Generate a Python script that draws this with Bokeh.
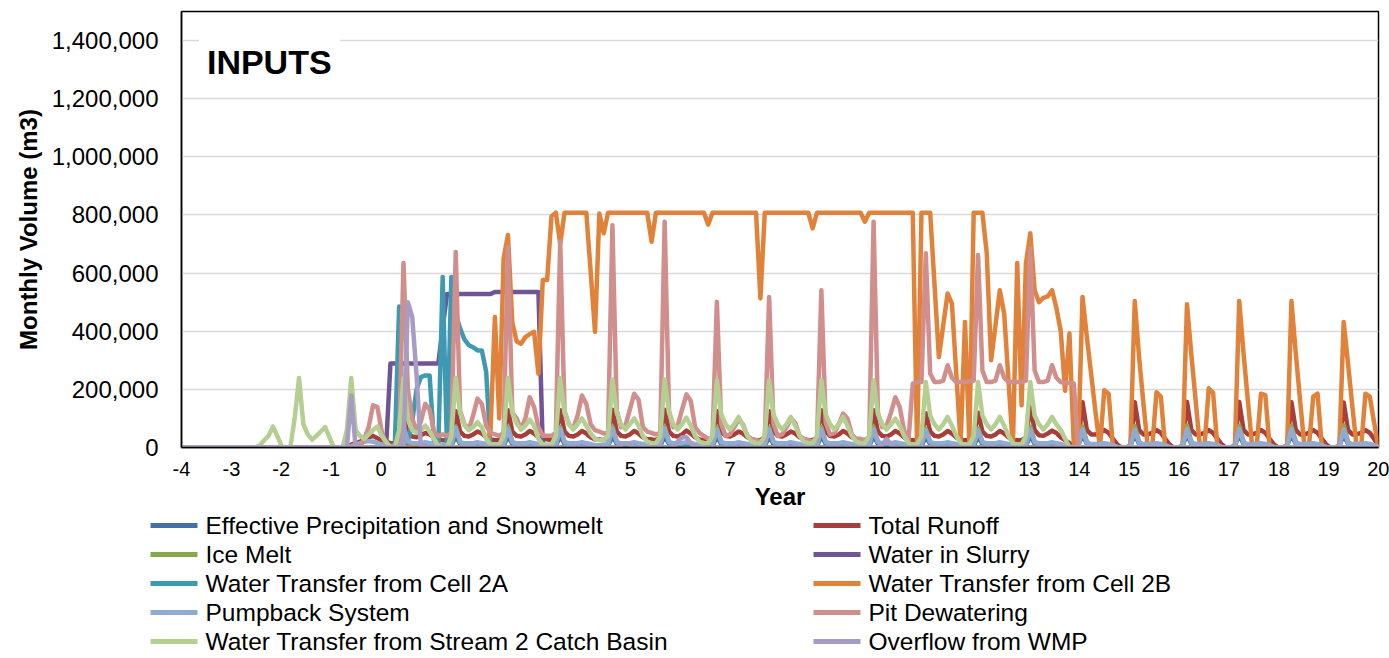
from bokeh.plotting import figure
from bokeh.models import Range1d, NumeralTickFormatter, FixedTicker, BoxAnnotation, Label
from bokeh.embed import file_html
from bokeh.resources import INLINE
from bokeh.core.properties import value

# ---------------- data (monthly volumes, thousands of m3; one row = 12 months) ----------------
N_MONTHS = 276
YEAR_START, YEAR_END = -4, 20
Y_TICKS = [0, 200000, 400000, 600000, 800000, 1000000, 1200000, 1400000]
X_TICKS = list(range(-4, 21))

Z = [0, 0, 0, 0, 0, 0, 0, 0, 0, 0, 0, 0]

eff_precip = [Z, Z, Z, Z,
    [0, 0, 5, 38, 12, 8, 8, 10, 12, 10, 5, 0],
    [0, 0, 5, 40, 12, 8, 8, 10, 12, 10, 5, 0],
    [0, 0, 5, 40, 12, 8, 8, 10, 12, 10, 5, 0],
    [0, 0, 5, 40, 12, 8, 8, 10, 12, 10, 5, 0],
    [0, 0, 5, 40, 12, 8, 8, 10, 12, 10, 5, 0],
    [0, 0, 5, 40, 12, 8, 8, 10, 12, 10, 5, 0],
    [0, 0, 5, 38, 12, 8, 8, 10, 12, 10, 5, 0],
    [0, 0, 5, 38, 12, 8, 8, 10, 12, 10, 5, 0],
    [0, 0, 5, 40, 12, 8, 8, 10, 12, 10, 5, 0],
    [0, 0, 5, 40, 12, 8, 8, 10, 12, 10, 5, 0],
    [0, 0, 5, 38, 12, 8, 8, 10, 12, 10, 5, 0],
    [0, 0, 5, 38, 12, 8, 8, 10, 12, 10, 5, 0],
    [0, 0, 5, 42, 12, 8, 8, 10, 12, 10, 5, 0],
    [0, 0, 5, 45, 12, 8, 8, 10, 12, 10, 5, 0],
    [0, 0, 5, 45, 12, 8, 8, 10, 12, 10, 5, 0],
    [0, 0, 5, 45, 12, 8, 8, 10, 12, 10, 5, 0],
    [0, 0, 5, 45, 12, 8, 8, 10, 12, 10, 5, 0],
    [0, 0, 5, 45, 12, 8, 8, 10, 12, 10, 5, 0],
    [0, 0, 5, 44, 12, 8, 8, 10, 12, 10, 5, 0]]

total_runoff = [Z, Z, Z,
    [0, 0, 0, 10, 15, 20, 28, 35, 40, 32, 25, 20],
    [15, 15, 25, 100, 50, 38, 35, 42, 50, 45, 35, 28],
    [25, 25, 35, 125, 55, 40, 38, 45, 55, 48, 35, 28],
    [25, 25, 35, 128, 55, 40, 38, 45, 57, 48, 35, 28],
    [28, 25, 35, 128, 55, 40, 38, 45, 57, 48, 35, 28],
    [28, 25, 35, 130, 55, 40, 38, 45, 57, 48, 35, 28],
    [28, 25, 35, 130, 55, 40, 38, 45, 58, 48, 35, 28],
    [25, 25, 35, 125, 55, 40, 38, 45, 55, 48, 35, 28],
    [25, 25, 35, 125, 55, 40, 38, 45, 55, 48, 35, 28],
    [25, 25, 35, 128, 55, 40, 38, 45, 57, 48, 35, 28],
    [25, 25, 35, 128, 55, 40, 38, 45, 57, 48, 35, 25],
    [25, 25, 35, 118, 55, 40, 38, 45, 57, 48, 35, 25],
    [25, 25, 35, 120, 55, 40, 38, 45, 57, 48, 35, 25],
    [25, 25, 35, 140, 60, 42, 40, 48, 58, 50, 35, 25],
    [15, 5, 10, 156, 60, 45, 45, 50, 60, 50, 30, 10],
    [0, 0, 5, 156, 60, 45, 45, 50, 60, 50, 30, 10],
    [0, 0, 5, 157, 60, 45, 45, 50, 60, 50, 30, 10],
    [0, 0, 5, 157, 60, 45, 45, 50, 60, 50, 30, 10],
    [0, 0, 5, 156, 60, 45, 45, 50, 60, 50, 30, 10],
    [0, 0, 5, 155, 60, 45, 45, 50, 60, 50, 30, 5]]

ice_melt = [Z, Z, Z, Z,
    [0, 0, 5, 65, 18, 5, 0, 0, 0, 0, 0, 0],
    [0, 0, 5, 70, 20, 5, 0, 0, 0, 0, 0, 0],
    [0, 0, 5, 72, 20, 5, 0, 0, 0, 0, 0, 0],
    [0, 0, 5, 70, 20, 5, 0, 0, 0, 0, 0, 0],
    [0, 0, 5, 72, 20, 5, 0, 0, 0, 0, 0, 0],
    [0, 0, 5, 70, 20, 5, 0, 0, 0, 0, 0, 0],
    [0, 0, 5, 68, 20, 5, 0, 0, 0, 0, 0, 0],
    [0, 0, 5, 68, 20, 5, 0, 0, 0, 0, 0, 0],
    [0, 0, 5, 70, 20, 5, 0, 0, 0, 0, 0, 0],
    [0, 0, 5, 70, 20, 5, 0, 0, 0, 0, 0, 0],
    [0, 0, 5, 64, 20, 5, 0, 0, 0, 0, 0, 0],
    [0, 0, 5, 66, 20, 5, 0, 0, 0, 0, 0, 0],
    [0, 0, 5, 72, 20, 5, 0, 0, 0, 0, 0, 0],
    [0, 0, 5, 72, 20, 5, 0, 0, 0, 0, 0, 0],
    [0, 0, 5, 74, 20, 5, 0, 0, 0, 0, 0, 0],
    [0, 0, 5, 76, 20, 5, 0, 0, 0, 0, 0, 0],
    [0, 0, 5, 74, 20, 5, 0, 0, 0, 0, 0, 0],
    [0, 0, 5, 74, 20, 5, 0, 0, 0, 0, 0, 0],
    [0, 0, 5, 76, 20, 5, 0, 0, 0, 0, 0, 0]]

water_in_slurry = [Z, Z, Z, Z,
    [289, 289, 289, 289, 289, 289, 289, 289, 289, 289, 289, 289],
    [410, 528, 528, 528, 528, 528, 528, 528, 528, 528, 528, 528],
    [535, 535, 535, 535, 535, 535, 535, 535, 535, 535, 535, 0],
    Z, Z, Z, Z, Z, Z, Z, Z, Z, Z, Z, Z, Z, Z, Z, Z]

cell_2a = [Z, Z, Z, Z,
    [0, 0, 485, 0, 20, 90, 200, 242, 248, 248, 20, 0],
    [587, 0, 587, 460, 410, 372, 352, 345, 334, 334, 260, 0],
    Z, Z, Z, Z, Z, Z, Z, Z, Z, Z, Z, Z, Z, Z, Z, Z, Z]

cell_2b = [Z, Z, Z, Z, Z,
    [0, 0, 0, 0, 0, 0, 0, 0, 0, 0, 0, 60],
    [449, 100, 650, 731, 430, 365, 357, 380, 390, 398, 254, 576],
    [576, 795, 808, 700, 808, 808, 808, 808, 808, 808, 605, 398],
    [805, 737, 808, 808, 808, 808, 808, 808, 808, 808, 808, 808],
    [708, 808, 808, 808, 808, 808, 808, 808, 808, 808, 808, 808],
    [808, 767, 808, 808, 808, 808, 808, 808, 808, 808, 808, 808],
    [808, 513, 808, 808, 808, 808, 808, 808, 808, 808, 808, 808],
    [808, 754, 808, 808, 808, 808, 808, 808, 808, 808, 808, 808],
    [808, 777, 808, 808, 808, 808, 808, 808, 808, 808, 808, 808],
    [808, 0, 808, 808, 808, 560, 311, 420, 530, 495, 255, 15],
    [432, 20, 808, 808, 808, 668, 300, 420, 541, 461, 231, 0],
    [635, 145, 633, 737, 541, 500, 515, 520, 541, 480, 400, 195],
    [392, 10, 0, 518, 380, 250, 120, 0, 197, 185, 0, 0],
    [0, 0, 0, 504, 311, 150, 0, 0, 190, 175, 0, 0],
    [0, 0, 0, 493, 320, 160, 0, 0, 204, 188, 0, 0],
    [0, 0, 0, 504, 323, 160, 0, 0, 185, 180, 0, 0],
    [0, 0, 0, 504, 323, 160, 0, 0, 175, 185, 0, 0],
    [0, 0, 0, 432, 289, 140, 0, 0, 185, 175, 85, 0]]

pumpback = [Z, Z, Z,
    [0, 0, 0, 5, 10, 15, 20, 22, 20, 15, 10, 5],
    [5, 5, 10, 75, 20, 15, 15, 15, 18, 15, 12, 8],
    [8, 8, 12, 68, 18, 15, 15, 15, 18, 15, 12, 8],
    [8, 8, 12, 65, 18, 15, 15, 15, 18, 15, 12, 8],
    [8, 8, 12, 65, 18, 15, 15, 15, 18, 15, 12, 8],
    [8, 8, 12, 65, 18, 15, 15, 15, 18, 15, 12, 8],
    [8, 8, 12, 65, 18, 15, 15, 15, 18, 15, 12, 8],
    [8, 8, 12, 62, 18, 15, 15, 15, 18, 15, 12, 8],
    [8, 8, 12, 62, 18, 15, 15, 15, 18, 15, 12, 8],
    [8, 8, 12, 62, 18, 15, 15, 15, 18, 15, 12, 8],
    [8, 8, 12, 62, 18, 15, 15, 15, 18, 15, 12, 8],
    [8, 8, 12, 59, 18, 15, 15, 15, 18, 15, 12, 8],
    [8, 8, 12, 59, 18, 15, 15, 15, 18, 15, 12, 8],
    [8, 8, 12, 62, 18, 15, 15, 15, 18, 15, 12, 8],
    [0, 0, 5, 62, 15, 12, 12, 12, 15, 12, 8, 2],
    [0, 0, 5, 62, 15, 12, 12, 12, 15, 12, 8, 2],
    [0, 0, 5, 64, 15, 12, 12, 12, 15, 12, 8, 2],
    [0, 0, 5, 64, 15, 12, 12, 12, 15, 12, 8, 2],
    [0, 0, 5, 64, 15, 12, 12, 12, 15, 12, 8, 2],
    [0, 0, 5, 62, 15, 12, 12, 12, 15, 12, 8, 2]]

pit_dewatering = [Z, Z, Z,
    [0, 0, 0, 0, 0, 0, 30, 70, 145, 140, 55, 10],
    [0, 0, 30, 635, 200, 100, 60, 90, 150, 130, 55, 40],
    [45, 40, 50, 673, 127, 80, 62, 110, 168, 150, 75, 50],
    [45, 40, 50, 690, 120, 100, 62, 100, 173, 140, 70, 40],
    [40, 40, 50, 710, 125, 80, 65, 110, 179, 150, 80, 60],
    [55, 48, 50, 765, 127, 70, 75, 130, 185, 165, 70, 55],
    [50, 45, 50, 777, 125, 70, 75, 130, 183, 160, 70, 50],
    [40, 30, 35, 501, 80, 40, 45, 70, 95, 80, 40, 30],
    [25, 20, 30, 518, 80, 40, 45, 70, 100, 85, 40, 30],
    [25, 20, 30, 541, 85, 45, 50, 80, 117, 100, 45, 30],
    [30, 25, 35, 777, 120, 70, 75, 120, 173, 140, 60, 20],
    [220, 225, 225, 668, 255, 225, 225, 230, 283, 240, 225, 225],
    [225, 228, 230, 662, 265, 225, 225, 230, 283, 240, 225, 225],
    [225, 225, 230, 685, 265, 225, 225, 230, 283, 240, 225, 222],
    [222, 220, 0, 0, 0, 0, 0, 0, 0, 0, 0, 0],
    Z, Z, Z, Z, Z]

stream2_basin = [Z,
    [0, 0, 0, 0, 0, 0, 8, 25, 40, 72, 40, 5],
    [0, 0, 100, 239, 80, 45, 27, 40, 55, 70, 35, 0],
    [0, 0, 60, 239, 60, 40, 30, 45, 60, 72, 40, 20],
    [0, 0, 60, 239, 100, 60, 50, 60, 75, 55, 30, 5],
    [0, 0, 40, 239, 120, 76, 60, 70, 87, 70, 30, 10],
    [10, 10, 40, 239, 120, 82, 62, 75, 96, 75, 30, 10],
    [10, 10, 40, 239, 120, 80, 62, 80, 100, 75, 48, 30],
    [25, 25, 40, 234, 120, 80, 62, 80, 100, 75, 40, 20],
    [15, 15, 40, 234, 120, 80, 62, 80, 103, 75, 40, 20],
    [15, 15, 40, 231, 115, 80, 62, 80, 105, 75, 40, 20],
    [15, 15, 40, 231, 115, 80, 62, 80, 105, 75, 40, 20],
    [15, 15, 40, 231, 115, 80, 62, 80, 105, 75, 40, 20],
    [15, 15, 40, 231, 115, 80, 62, 80, 99, 75, 40, 15],
    [10, 10, 40, 225, 110, 80, 62, 80, 105, 75, 40, 15],
    [10, 10, 40, 225, 110, 80, 62, 80, 105, 75, 40, 15],
    [10, 10, 40, 225, 110, 80, 62, 80, 105, 80, 60, 30],
    Z, Z, Z, Z, Z, Z]

overflow_wmp = [Z, Z, Z,
    [0, 0, 0, 179, 0, 0, 0, 0, 0, 0, 0, 0],
    [0, 0, 0, 0, 500, 450, 250, 0, 0, 0, 0, 0],
    Z, Z, Z,
    [0, 0, 0, 0, 0, 10, 15, 10, 0, 0, 0, 0],
    [0, 0, 0, 0, 0, 0, 20, 35, 35, 15, 0, 0],
    Z, Z, Z,
    [0, 0, 0, 0, 0, 10, 30, 10, 0, 0, 0, 0],
    Z, Z, Z, Z, Z, Z, Z, Z, Z]

series_names = ["Effective Precipitation and Snowmelt", "Total Runoff", "Ice Melt",
                "Water in Slurry", "Water Transfer from Cell 2A", "Water Transfer from Cell 2B",
                "Pumpback System", "Pit Dewatering", "Water Transfer from Stream 2 Catch Basin",
                "Overflow from WMP"]
series_blocks = [eff_precip, total_runoff, ice_melt, water_in_slurry, cell_2a, cell_2b,
                 pumpback, pit_dewatering, stream2_basin, overflow_wmp]
series_colors = ["#4472A8", "#A83E3B", "#87A84B", "#6F5597", "#3E99B2", "#E0823A",
                 "#8FAAD3", "#D08E8C", "#B5CF92", "#A79CC2"]

# ---------------- build ----------------
months_x = [YEAR_START + i * (YEAR_END - YEAR_START) / (N_MONTHS - 1) for i in range(N_MONTHS)]

FONT = "Liberation Sans"
MAIN_H = 517

p = figure(width=1389, height=MAIN_H, x_range=Range1d(-4, 20), y_range=Range1d(0, 1500000),
           output_backend="svg", toolbar_location=None,
           min_border_left=181, min_border_right=11, min_border_top=11, min_border_bottom=70)

for blocks, col in zip(series_blocks, series_colors):
    vals = [v * 1000 for row in blocks for v in row]
    p.line(months_x, vals, line_color=col, line_width=4.5, line_join="round", line_cap="round")

p.outline_line_color = "black"
p.outline_line_width = 1.5
p.xgrid.grid_line_color = None
p.ygrid.grid_line_color = "#D9D9D9"
p.ygrid.grid_line_width = 1.5

p.yaxis.ticker = FixedTicker(ticks=Y_TICKS)
p.yaxis.formatter = NumeralTickFormatter(format="0,0")
p.xaxis.ticker = FixedTicker(ticks=X_TICKS)
p.xaxis.major_label_overrides = {t: str(t) for t in X_TICKS}

for ax in (p.xaxis[0], p.yaxis[0]):
    ax.axis_line_color = "black"
    ax.axis_line_width = 1.5
    ax.major_tick_line_color = None
    ax.minor_tick_line_color = None
    ax.major_tick_out = 0
    ax.major_tick_in = 0
    ax.major_label_text_font = FONT
    ax.major_label_text_color = "black"
    ax.axis_label_text_font = FONT
    ax.axis_label_text_font_style = "bold"
    ax.axis_label_text_font_size = "24px"
    ax.axis_label_text_color = "black"

p.yaxis.major_label_text_font_size = "24px"
p.yaxis.major_label_standoff = 23
p.yaxis.axis_label = "Monthly Volume (m3)"
p.yaxis.axis_label_standoff = 7
p.xaxis.major_label_text_font_size = "20px"
p.xaxis.major_label_standoff = 14
p.xaxis.axis_label = "Year"
p.xaxis.axis_label_standoff = 4

p.add_layout(BoxAnnotation(left=-3.65, right=-0.82, bottom=1270000, top=1460000,
                           fill_color="white", fill_alpha=1.0, line_color=None))
p.add_layout(Label(x=-3.49, y=1325000, text="INPUTS", text_font=FONT, text_font_size="34px",
                   text_font_style="bold", text_baseline="middle", text_color="black"))

# ---------------- legend (transparent root, pulled up to overlap the chart's empty bottom edge) ----------------
OVERLAP = 12
LEG_TOP = MAIN_H - OVERLAP            # page y where the legend panel starts
LEG_H = 658 - LEG_TOP
leg = figure(width=1389, height=LEG_H, x_range=Range1d(0, 1389), y_range=Range1d(LEG_H, 0),
             output_backend="svg", toolbar_location=None, min_border=0,
             x_axis_type=None, y_axis_type=None,
             background_fill_color=None, border_fill_color=None)
leg.styles = {"margin-top": "-%dpx" % OVERLAP}
leg.outline_line_color = None
leg.grid.grid_line_color = None

row_page_y = [525, 554, 583, 612, 641]
col_line_x0 = [150, 813]
line_len = 47
text_gap = 8
x0s, x1s, ys, tx, ty = [], [], [], [], []
for i, name in enumerate(series_names):
    r, c = i // 2, i % 2
    yy = row_page_y[r] - LEG_TOP
    x0s.append(col_line_x0[c]); x1s.append(col_line_x0[c] + line_len); ys.append(yy)
    tx.append(col_line_x0[c] + line_len + text_gap); ty.append(yy)
leg.segment(x0=x0s, y0=ys, x1=x1s, y1=ys, line_color=series_colors, line_width=5)
leg.text(x=tx, y=ty, text=series_names, text_font=value(FONT), text_font_size="24.5px",
         text_baseline="middle", text_align="left", text_color="black")

open("out.html", "w").write(file_html([p, leg], INLINE))
